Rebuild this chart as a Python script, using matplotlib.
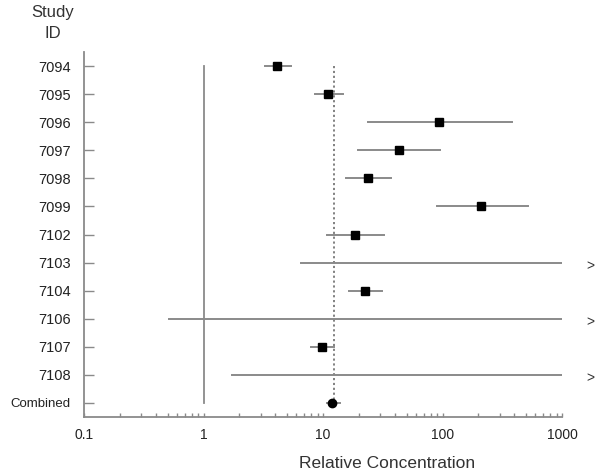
import matplotlib
matplotlib.use("Agg")
import matplotlib.pyplot as plt
import matplotlib.transforms as mtransforms
from matplotlib.ticker import LogLocator, NullFormatter, FixedLocator, FixedFormatter
import numpy as np

plt.rcParams['font.family'] = ['Liberation Sans', 'DejaVu Sans']

study_ids = ["7094", "7095", "7096", "7097", "7098", "7099", "7102",
             "7103", "7104", "7106", "7107", "7108", "Combined"]
estimate = [4.1, 11.1, 94, 43, 24, 210, 18.6, None, 22.4, None, 9.8, None, 12.0]
ci_low = [3.25, 8.5, 23.7, 19.7, 15.5, 90, 10.9, 6.5, 16.6, 0.51, 8.0, 1.73, 10.9]
ci_high = [5.4, 14.7, 383, 96, 37, 520, 32.6, 1000, 31.2, 1000, 12.4, 1000, 14.0]
truncated = [False, False, False, False, False, False, False,
             True, False, True, False, True, False]
combined_value = 12.3
null_value = 1
x_ticks = [0.1, 1, 10, 100, 1000]
x_tick_labels = ["0.1", "1", "10", "100", "1000"]

fig = plt.figure(figsize=(6, 4.75), dpi=100)
W, H = 600, 475
ax_l, ax_r, ax_t, ax_b = 84, 562, 52, 417
ax = fig.add_axes([ax_l / W, 1 - ax_b / H, (ax_r - ax_l) / W, (ax_b - ax_t) / H])

n = len(study_ids)
ypos = np.arange(n)
gray = '#8a8a8a'

ax.set_xscale('log')
ax.set_xlim(0.1, 1000)
ax.set_ylim(n - 0.5, -0.5)

# reference lines
ax.plot([null_value, null_value], [0, n - 1], color=gray, lw=1.3, zorder=1)
ax.plot([combined_value, combined_value], [0, n - 1], color='#777777', lw=1.3,
        ls=(0, (1.2, 1.5)), zorder=1)

for i in range(n):
    ax.plot([ci_low[i], ci_high[i]], [ypos[i], ypos[i]], color=gray, lw=1.4, zorder=2)
    if estimate[i] is not None:
        if study_ids[i] == "Combined":
            ax.plot(estimate[i], ypos[i], marker='o', color='black', ms=6, zorder=3)
        else:
            ax.plot(estimate[i], ypos[i], marker='s', color='black', ms=5.5, zorder=3)

trans = mtransforms.blended_transform_factory(ax.transAxes, ax.transData)
for i in range(n):
    if truncated[i]:
        ax.text((590 - ax_l) / (ax_r - ax_l), ypos[i] + 0.12, ">", transform=trans,
                ha='center', va='center', fontsize=10, color='#333333')

for s in ['top', 'right']:
    ax.spines[s].set_visible(False)
for s in ['left', 'bottom']:
    ax.spines[s].set_color(gray)
    ax.spines[s].set_linewidth(1.3)

ax.set_yticks(ypos)
ax.set_yticklabels(study_ids)
for lbl in ax.get_yticklabels():
    lbl.set_fontsize(9.5 if lbl.get_text() == "Combined" else 10.5)
ax.tick_params(axis='y', direction='in', length=7, width=1, color=gray,
               labelcolor='#222222', pad=9.5)

ax.xaxis.set_major_locator(FixedLocator(x_ticks))
ax.xaxis.set_major_formatter(FixedFormatter(x_tick_labels))
ax.xaxis.set_minor_locator(LogLocator(base=10, subs=np.arange(2, 10)))
ax.xaxis.set_minor_formatter(NullFormatter())
ax.tick_params(axis='x', which='both', direction='in', length=3, width=1,
               color=gray, labelcolor='#222222', labelsize=10, pad=8)

fig.text(53 / W, 1 - 13 / H, "Study", ha='center', va='center', fontsize=12, color='#333333')
fig.text(53 / W, 1 - 34 / H, "ID", ha='center', va='center', fontsize=12, color='#333333')
fig.text(387 / W, 1 - 463 / H, "Relative Concentration", ha='center', va='center',
         fontsize=12.5, color='#333333')

fig.savefig("out.png", dpi=100)
